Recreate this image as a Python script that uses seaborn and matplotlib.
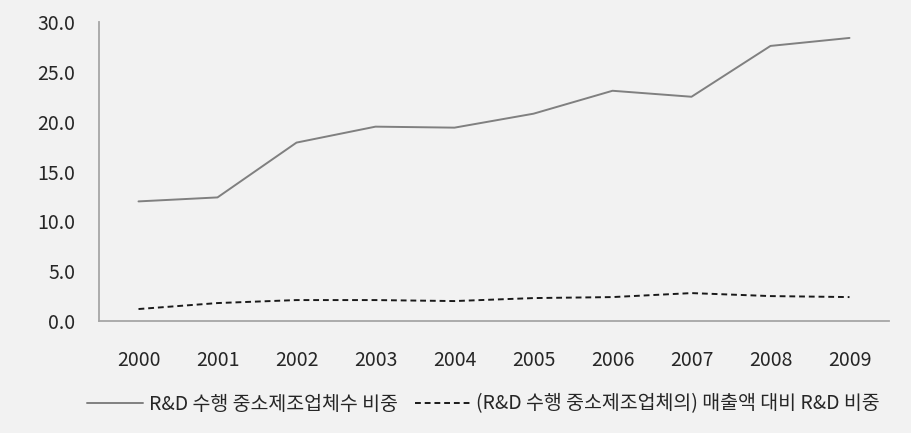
import matplotlib
matplotlib.use("Agg")
import matplotlib.pyplot as plt
import seaborn as sns
import pandas as pd
from matplotlib.ticker import FormatStrFormatter

years = ["2000", "2001", "2002", "2003", "2004", "2005", "2006", "2007", "2008", "2009"]
series1_name = "R&D 수행 중소제조업체수 비중"
series2_name = "(R&D 수행 중소제조업체의) 매출액 대비 R&D 비중"
series1 = [12.0, 12.4, 17.9, 19.5, 19.4, 20.8, 23.1, 22.5, 27.6, 28.4]
series2 = [1.2, 1.8, 2.1, 2.1, 2.0, 2.3, 2.4, 2.8, 2.5, 2.4]
yticks = [0, 5, 10, 15, 20, 25, 30]

sns.set_theme(style="white")
plt.rcParams["font.family"] = ["Noto Sans CJK KR", "DejaVu Sans"]

bg = "#f2f2f2"
fig = plt.figure(figsize=(9.11, 4.33), dpi=100, facecolor=bg)
ax = fig.add_axes([99/911, 1-321/433, 790/911, 299/433])
ax.set_facecolor(bg)

df = pd.DataFrame({
    "value": series1 + series2,
    "series": [series1_name] * len(years) + [series2_name] * len(years),
})
df["x"] = list(range(len(years))) * 2

sns.lineplot(data=df[df.series == series1_name], x="x", y="value", ax=ax,
             color="#808080", lw=1.4, label=series1_name, legend=False)
sns.lineplot(data=df[df.series == series2_name], x="x", y="value", ax=ax,
             color="#1a1a1a", lw=1.4, label=series2_name, legend=False,
             linestyle=(0, (3, 2)))

ax.set_xlim(-0.5, len(years) - 0.5)
ax.set_ylim(0, 30)
ax.set_xticks(range(len(years)))
ax.set_xticklabels(years)
ax.set_yticks(yticks)
ax.yaxis.set_major_formatter(FormatStrFormatter("%.1f"))
ax.set_xlabel("")
ax.set_ylabel("")
for s in ["top", "right"]:
    ax.spines[s].set_visible(False)
for s in ["left", "bottom"]:
    ax.spines[s].set_color("#a6a6a6")
    ax.spines[s].set_linewidth(1.3)
ax.tick_params(axis="x", length=0, pad=21, labelsize=14, labelcolor="#262626")
ax.tick_params(axis="y", length=0, pad=17, labelsize=14, labelcolor="#262626")

handles, labels = ax.get_legend_handles_labels()
fig.legend(handles, labels, loc="center", bbox_to_anchor=(0.531, 1-404/433),
           ncol=2, frameon=False, fontsize=14, handlelength=2.85,
           columnspacing=0.9, handletextpad=0.3, labelcolor="#262626")

fig.savefig("out.png", dpi=100, facecolor=bg)
